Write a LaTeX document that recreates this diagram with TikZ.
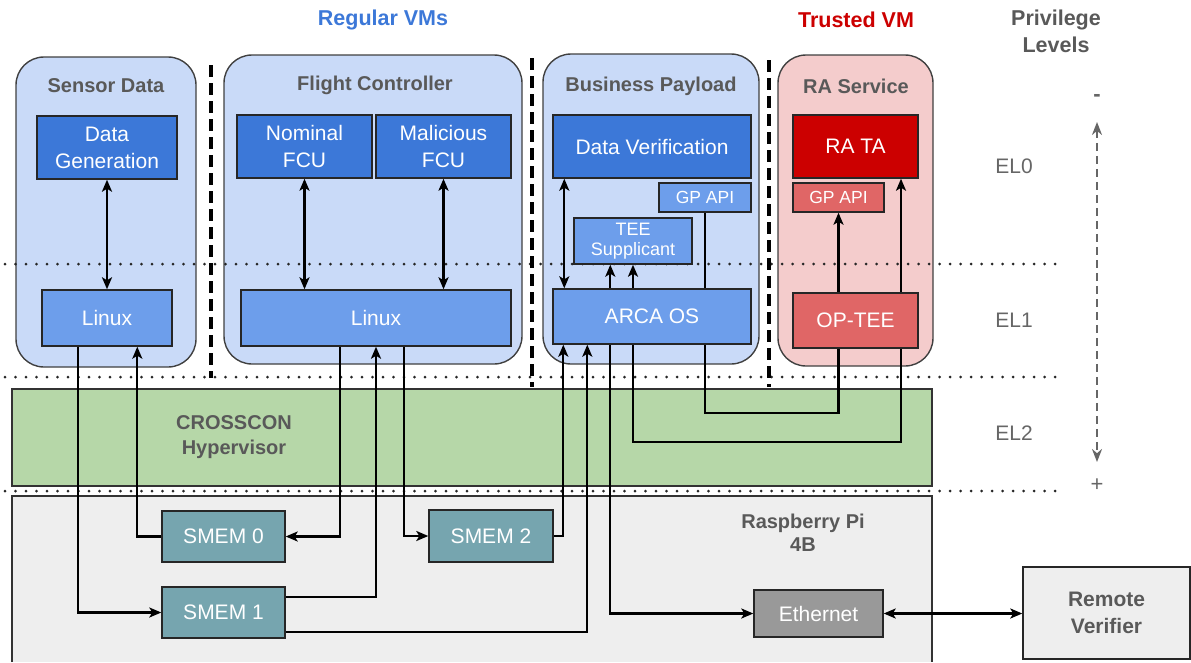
\documentclass[tikz,border=0pt]{standalone}
\usepackage{fontspec}
\setmainfont{Liberation Sans}
\usetikzlibrary{arrows.meta}
\pgfdeclarelayer{bg}
\pgfdeclarelayer{mid}
\pgfsetlayers{bg,mid,main}
\definecolor{vmblue}{HTML}{C9DAF8}
\definecolor{dblue}{HTML}{3C78D8}
\definecolor{lblue}{HTML}{6D9EEB}
\definecolor{vmred}{HTML}{F4CCCC}
\definecolor{dred}{HTML}{CC0000}
\definecolor{lred}{HTML}{E06666}
\definecolor{hypgreen}{HTML}{B6D7A8}
\definecolor{pigray}{HTML}{EEEEEE}
\definecolor{smemteal}{HTML}{76A5AF}
\definecolor{ethgray}{HTML}{999999}
\definecolor{titlegray}{HTML}{595959}
\definecolor{elgray}{HTML}{666666}
\definecolor{headblue}{HTML}{3C78D8}
\begin{document}
\begin{tikzpicture}[x=1pt,y=-1pt,
  >={Stealth[length=12pt,width=10pt,inset=3pt]},
  vm/.style={draw=black!75, line width=1.4pt, rounded corners=28pt, inner sep=0pt},
  plainbox/.style={draw=black!80, line width=1.4pt, inner sep=0pt},
  ib/.style={draw=black!85, line width=1.4pt, text=white, align=center, inner sep=0pt,
    font=\fontsize{21}{27}\selectfont},
  smallib/.style={ib, font=\fontsize{17.5}{20}\selectfont},
  ttl/.style={text=titlegray, align=center, inner sep=0pt, font=\bfseries\fontsize{20}{25}\selectfont},
  head/.style={align=center, inner sep=0pt, font=\bfseries\fontsize{21.5}{27}\selectfont},
  el/.style={text=elgray, inner sep=0pt, font=\fontsize{21}{25}\selectfont},
  conn/.style={line width=2.3pt, black},
  levelsep/.style={line width=3pt, black!85, line cap=round, dash pattern=on 0pt off 10.5pt},
  vmsep/.style={line width=3.2pt, black, dash pattern=on 12pt off 6pt},
  privarrow/.style={line width=2.4pt, elgray, dash pattern=on 8pt off 5pt, <->, >={Stealth[length=13pt,width=10pt]}}
]
\useasboundingbox (0,0) rectangle (1191,662);

% ---------- headings ----------
\node[head, text=headblue] (regvm) at (383,20) {Regular VMs};
\node[head, text=dred] (trvm) at (856,20) {Trusted VM};
\node[head, text=titlegray] (priv) at (1056,31.5) {Privilege\\Levels};

% ---------- containers ----------
\begin{pgfonlayer}{bg}
\node[vm, fill=vmblue, minimum width=180, minimum height=310] (vmsd) at (106,212) {};
\node[vm, fill=vmblue, minimum width=298, minimum height=309] (vmfc) at (373,209.5) {};
\node[vm, fill=vmblue, minimum width=216, minimum height=310] (vmbp) at (651,209) {};
\node[vm, fill=vmred, minimum width=155, minimum height=311] (vmra) at (855.5,210.5) {};
\node[plainbox, fill=hypgreen, minimum width=920, minimum height=97] (hyp) at (472,437.5) {};
\fill[pigray] (12,496) rectangle (932,662);
\draw[draw=black!80, line width=1.4pt] (12,662) -- (12,496) -- (932,496) -- (932,662);
% privilege level separators
\draw[levelsep] (5,264) -- (1058,264);
\draw[levelsep] (5,377) -- (1058,377);
\draw[levelsep] (5,491) -- (1058,491);
% VM separators
\draw[vmsep] (211,65) -- (211,378);
\draw[vmsep] (532,58) -- (532,387);
\draw[vmsep] (769,60) -- (769,387);
\end{pgfonlayer}

% ---------- titles ----------
\node[ttl] (tsd) at (106,86) {Sensor Data};
\node[ttl] (tfc) at (375,85) {Flight Controller};
\node[ttl] (tbp) at (651,86) {Business Payload};
\node[ttl] (tra) at (856,86) {RA Service};
\node[ttl] (thyp) at (234,437.5) {CROSSCON\\Hypervisor};
\node[ttl, font=\bfseries\fontsize{20}{23}\selectfont] (tpi) at (803,532.5) {Raspberry Pi\\4B};

% ---------- inner boxes ----------
\node[ib, fill=dblue, minimum width=140, minimum height=63] (dg) at (107,147.5) {Data\\Generation};
\node[ib, fill=lblue, minimum width=130, minimum height=56] (lin1) at (107,318) {Linux};
\node[ib, fill=dblue, minimum width=135, minimum height=63] (nfcu) at (304.5,146.5) {Nominal\\FCU};
\node[ib, fill=dblue, minimum width=135, minimum height=63] (mfcu) at (443.5,146.5) {Malicious\\FCU};
\node[ib, fill=lblue, minimum width=270, minimum height=56] (lin2) at (376,318) {Linux};
\node[ib, fill=dblue, minimum width=198, minimum height=63] (dv) at (652,146.5) {Data Verification};
\node[smallib, fill=lblue, minimum width=92, minimum height=29] (gp1) at (705,197.5) {GP API};
\node[smallib, fill=lblue, minimum width=118, minimum height=46,
  font=\fontsize{18}{20}\selectfont] (tee) at (633,241) {TEE\\Supplicant};
\node[ib, fill=lblue, minimum width=198, minimum height=55] (arca) at (652,316.5) {ARCA OS};
\node[ib, fill=dred, minimum width=125, minimum height=63] (rata) at (855.5,146.5) {RA TA};
\node[smallib, fill=lred, minimum width=91, minimum height=29] (gp2) at (838.5,197.5) {GP API};
\node[ib, fill=lred, minimum width=125, minimum height=55] (optee) at (855.5,320.5) {OP-TEE};
\node[ib, fill=smemteal, minimum width=123, minimum height=51] (smem0) at (223.5,536.5) {SMEM 0};
\node[ib, fill=smemteal, minimum width=124, minimum height=52] (smem2) at (491,536) {SMEM 2};
\node[ib, fill=smemteal, minimum width=123, minimum height=51] (smem1) at (223.5,612.5) {SMEM 1};
\node[ib, fill=ethgray, minimum width=129, minimum height=47] (eth) at (818.5,613.5) {Ethernet};
\node[ib, fill=pigray, text=titlegray, minimum width=167, minimum height=92,
  font=\bfseries\fontsize{21}{27}\selectfont] (rv) at (1106.5,613) {Remote\\Verifier};

% ---------- privilege levels ----------
\node[el] (el0) at (1014,166) {EL0};
\node[el] (el1) at (1014,320) {EL1};
\node[el] (el2) at (1014,433) {EL2};
\node[el, font=\bfseries\fontsize{22}{25}\selectfont] (minus) at (1097,98) {-};
\node[el, font=\fontsize{22}{25}\selectfont] (plus) at (1097,485) {+};
\coordinate (ptop) at (1097,122);
\coordinate (pbot) at (1097,462);
\draw[privarrow] (ptop) -- (pbot);

% ---------- connectors ----------
\begin{pgfonlayer}{mid}
\draw[conn,<->] (dg.south) -- (lin1.north);
\draw[conn,<->] (nfcu.south) -- (nfcu.south |- lin2.north);
\draw[conn,<->] (mfcu.south) -- (mfcu.south |- lin2.north);
\coordinate (dvl) at ([xshift=12pt]dv.south west);
\draw[conn,<->] (dvl) -- (dvl |- arca.north);
\coordinate (teel) at ([xshift=37pt]tee.south west);
\draw[conn,<->] (teel) |- (eth.west);
\coordinate (bendB) at (800,442);
\draw[conn,<->] (tee.south) |- (bendB) -| ([xshift=45.5pt]rata.south);
\coordinate (bendC) at (780,413);
\draw[conn,->] (gp1.south) |- (bendC) -| (gp2.south);
\draw[conn,->] ([xshift=37pt]lin1.south west) |- (smem1.west);
\draw[conn,->] (smem0.west) -| ([xshift=96pt]lin1.south west);
\draw[conn,->] ([xshift=100pt]lin2.south west) |- (smem0.east);
\draw[conn,->] ([yshift=15.5pt]smem1.east) -| (lin2.south);
\draw[conn,->] ([xshift=164pt]lin2.south west) |- (smem2.west);
\draw[conn,->] (smem2.east) -| ([xshift=11pt]arca.south west);
\draw[conn,->] ([yshift=-19.5pt]smem1.east) -| ([xshift=35pt]arca.south west);
\draw[conn,<->] (eth.east) -- (eth.east -| rv.west);
\end{pgfonlayer}
\end{tikzpicture}
\end{document}
